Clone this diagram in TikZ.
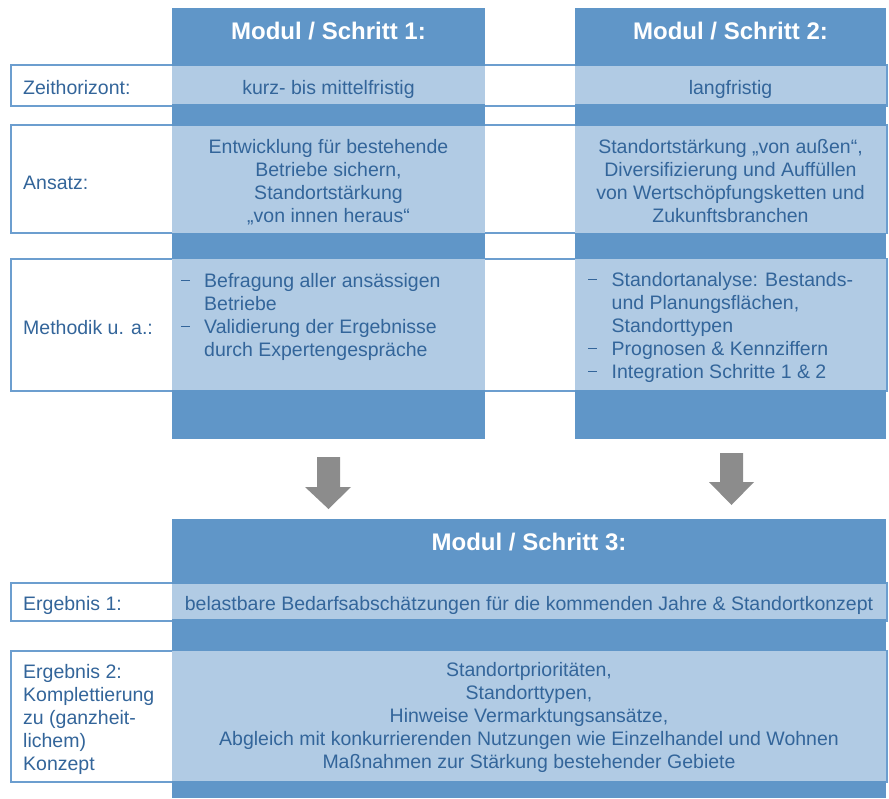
\documentclass[tikz,border=0pt]{standalone}
\usepackage{fontspec}
\setmainfont{Liberation Sans}
\definecolor{darkband}{HTML}{6096C8}
\definecolor{lightband}{HTML}{B1CBE4}
\definecolor{txtblue}{HTML}{33659A}
\definecolor{framec}{HTML}{6C9ECF}
\definecolor{arrowc}{HTML}{8C8C8C}
\newcommand\topstrut{\rule{0pt}{18pt}}
\newcommand\listdash[1]{\makebox[#1][l]{\rule[6.3pt]{8.5pt}{1.3pt}}}
\begin{document}
\begin{tikzpicture}[x=1pt,y=-1pt,
  colbox/.style={fill=darkband, draw=none},
  band/.style={fill=lightband, draw=none},
  rowframe/.style={draw=framec, line width=1.4pt, fill=white},
  body/.style={text=txtblue, font=\fontsize{19.5}{23}\selectfont, inner sep=0pt},
  title/.style={text=white, font=\fontsize{24}{28}\selectfont\bfseries, inner sep=0pt},
  blockarrow/.style={fill=arrowc, draw=none}]
\useasboundingbox (0,0) rectangle (889,798);

% row frames
\draw[rowframe] (11,65) rectangle (887,106);
\draw[rowframe] (11,125) rectangle (887,233);
\draw[rowframe] (11,259) rectangle (887,391);
\draw[rowframe] (11,583) rectangle (887,621);
\draw[rowframe] (11,651) rectangle (887,782);

% columns
\fill[colbox] (172,8) rectangle (485,439);
\fill[colbox] (575,8) rectangle (886,439);
\fill[colbox] (172,519) rectangle (886,798);

% light bands
\foreach \xa/\xb in {172/485, 575/886}{
  \fill[band] (\xa,66) rectangle (\xb,104);
  \fill[band] (\xa,126) rectangle (\xb,233);
  \fill[band] (\xa,259) rectangle (\xb,390);
}
\fill[band] (172,584) rectangle (886,619);
\fill[band] (172,651) rectangle (886,781);

% arrows
\fill[blockarrow] (317,457) -- (340,457) -- (340,487) -- (351,487) -- (328.5,509) -- (305,487) -- (317,487) -- cycle;
\fill[blockarrow] (720,453) -- (743,453) -- (743,482) -- (754,482) -- (731.5,505) -- (709,482) -- (720,482) -- cycle;

% titles
\node[title, anchor=base] (t1) at (328.5,39) {Modul / Schritt 1:};
\node[title, anchor=base] (t2) at (730.5,39) {Modul / Schritt 2:};
\node[title, anchor=base] (t3) at (529,550) {Modul / Schritt 3:};

% labels
\node[body, anchor=base west] (lz) at (23,94) {Zeithorizont:};
\node[body, anchor=base west] (la) at (23,189) {Ansatz:};
\node[body, anchor=base west] (lm) at (23,334) {Methodik u. a.:};
\node[body, anchor=base west] (le1) at (23,610) {Ergebnis 1:};
\node[body, anchor=north west, align=left] (le2) at (23,660) {\topstrut Ergebnis 2:\\Komplettierung\\zu (ganzheit-\\lichem)\\Konzept};

% Zeithorizont
\node[body, anchor=base] (z1) at (328.5,94) {kurz- bis mittelfristig};
\node[body, anchor=base] (z2) at (730.5,94) {langfristig};

% Ansatz
\node[body, anchor=north, align=center] (a1) at (328.5,135) {\topstrut Entwicklung für bestehende\\Betriebe sichern,\\Standortstärkung\\„von innen heraus“};
\node[body, anchor=north, align=center] (a2) at (730.5,135) {\topstrut Standortstärkung „von außen“,\\Diversifizierung und Auffüllen\\von Wertschöpfungsketten und\\Zukunftsbranchen};

% Methodik
\node[body, anchor=north west, align=left] (m1) at (181,269) {\topstrut\listdash{23pt}Befragung aller ansässigen\\\hspace*{23pt}Betriebe\\\listdash{23pt}Validierung der Ergebnisse\\\hspace*{23pt}durch Expertengespräche};
\node[body, anchor=north west, align=left] (m2) at (588,268) {\topstrut\listdash{23.5pt}Standortanalyse: Bestands-\\\hspace*{23.5pt}und Planungsflächen,\\\hspace*{23.5pt}Standorttypen\\\listdash{23.5pt}Prognosen \& Kennziffern\\\listdash{23.5pt}Integration Schritte 1 \& 2};

% Ergebnisse
\node[body, anchor=base] (e1) at (529,610) {belastbare Bedarfsabschätzungen für die kommenden Jahre \& Standortkonzept};
\node[body, anchor=north, align=center] (e2) at (529,658) {\topstrut Standortprioritäten,\\Standorttypen,\\Hinweise Vermarktungsansätze,\\Abgleich mit konkurrierenden Nutzungen wie Einzelhandel und Wohnen\\Maßnahmen zur Stärkung bestehender Gebiete};
\end{tikzpicture}
\end{document}
